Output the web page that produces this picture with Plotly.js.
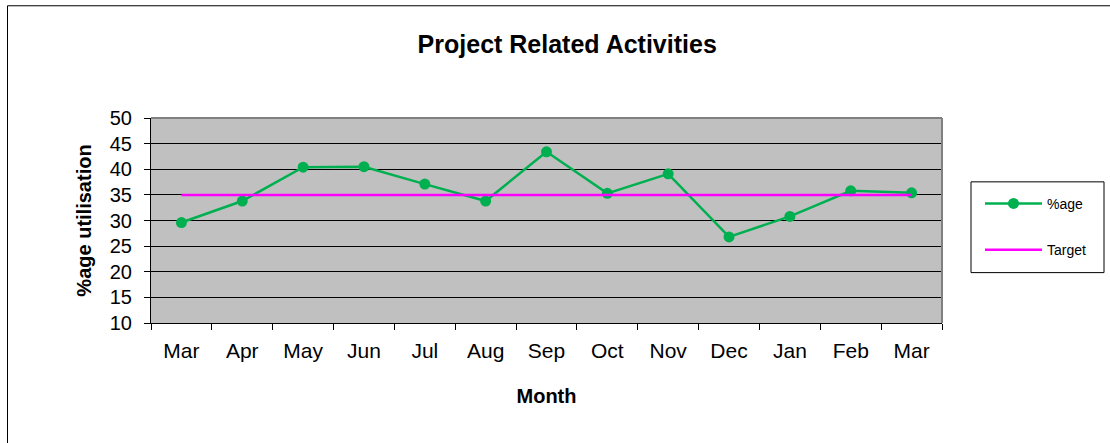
<!DOCTYPE html>
<html>
<head>
<meta charset="utf-8">
<script src="https://cdn.plot.ly/plotly-3.0.1.min.js"></script>
<style>html,body{margin:0;padding:0;background:#fff;}#chart{width:1110px;height:443px;}</style>
</head>
<body>
<div id="chart"></div>
<script>
const months = ["Mar","Apr","May","Jun","Jul","Aug","Sep","Oct","Nov","Dec","Jan","Feb","Mar "];
const utilisation = [29.6, 33.8, 40.4, 40.5, 37.1, 33.8, 43.4, 35.3, 39.1, 26.8, 30.8, 35.8, 35.4];
const target = [35, 35, 35, 35, 35, 35, 35, 35, 35, 35, 35, 35, 35];
const yTicks = [10, 15, 20, 25, 30, 35, 40, 45, 50];

const L = 151, R = 942, T = 118, B = 323.5, W = 1110, H = 443;
const pw = R - L, ph = B - T;
const px = v => (v - L) / pw;
const py = v => (B - v) / ph;

const traces = [
  {
    x: months, y: utilisation, name: "%age", type: "scatter", mode: "lines+markers",
    line: {color: "#00b050", width: 2.5},
    marker: {color: "#00b050", size: 11},
    legendgroup: "a"
  },
  {
    x: months, y: target, name: "Target", type: "scatter", mode: "lines",
    line: {color: "#ff00ff", width: 2.5},
    legendgroup: "b"
  }
];

const layout = {
  width: W, height: H,
  margin: {l: L, r: W - R, t: T, b: H - B},
  paper_bgcolor: "#ffffff",
  plot_bgcolor: "#c0c0c0",
  font: {family: "Arial, Liberation Sans, sans-serif", color: "#000"},
  title: {text: "<b>Project Related Activities</b>", font: {size: 25, color: "#000"}, x: 0.511, xanchor: "center", y: 0.9, yanchor: "middle"},
  showlegend: true,
  legend: {
    x: px(980), y: py(188), xanchor: "left", yanchor: "top",
    bgcolor: "rgba(0,0,0,0)", borderwidth: 0,
    font: {size: 14, color: "#000"},
    traceorder: "grouped", tracegroupgap: 25,
    itemwidth: 57
  },
  xaxis: {
    type: "category",
    tickmode: "array", tickvals: months, ticktext: months.map(m => m.trim()),
    tickson: "boundaries", ticks: "outside", ticklen: 6, tickcolor: "#000", tickwidth: 1,
    showgrid: false, zeroline: false,
    showline: true, linecolor: "#000", linewidth: 1,
    tickfont: {size: 21, color: "#000"},
    ticklabelstandoff: 9,
    range: [-0.5, 12.5],
    title: {text: "<b>Month</b>", font: {size: 20, color: "#000"}, standoff: 27}
  },
  yaxis: {
    range: [10, 50], tickmode: "array", tickvals: yTicks,
    ticks: "outside", ticklen: 6, tickcolor: "#000", tickwidth: 1,
    showgrid: true, gridcolor: "#000", gridwidth: 1,
    zeroline: false, showline: true, linecolor: "#000", linewidth: 1,
    tickfont: {size: 20, color: "#000"},
    ticklabelstandoff: 8,
    title: {text: "<b>%age utilisation</b>", font: {size: 20, color: "#000"}, standoff: 12}
  },
  shapes: [
    {type: "rect", xref: "paper", yref: "paper", x0: px(7.5), x1: px(1200), y0: py(5.5), y1: py(600),
     line: {color: "#000", width: 1}, fillcolor: "rgba(0,0,0,0)", layer: "below"},
    {type: "rect", xref: "paper", yref: "paper", x0: px(971), x1: px(1104), y0: py(182), y1: py(273),
     line: {color: "#000", width: 1}, fillcolor: "#ffffff", layer: "below"},
    {type: "line", xref: "paper", yref: "paper", x0: 0, x1: 1, y0: 1, y1: 1, line: {color: "#808080", width: 2}},
    {type: "line", xref: "paper", yref: "paper", x0: 1, x1: 1, y0: 0, y1: 1, line: {color: "#808080", width: 2}}
  ]
};

Plotly.newPlot("chart", traces, layout, {displayModeBar: false, staticPlot: true});
</script>
</body>
</html>
